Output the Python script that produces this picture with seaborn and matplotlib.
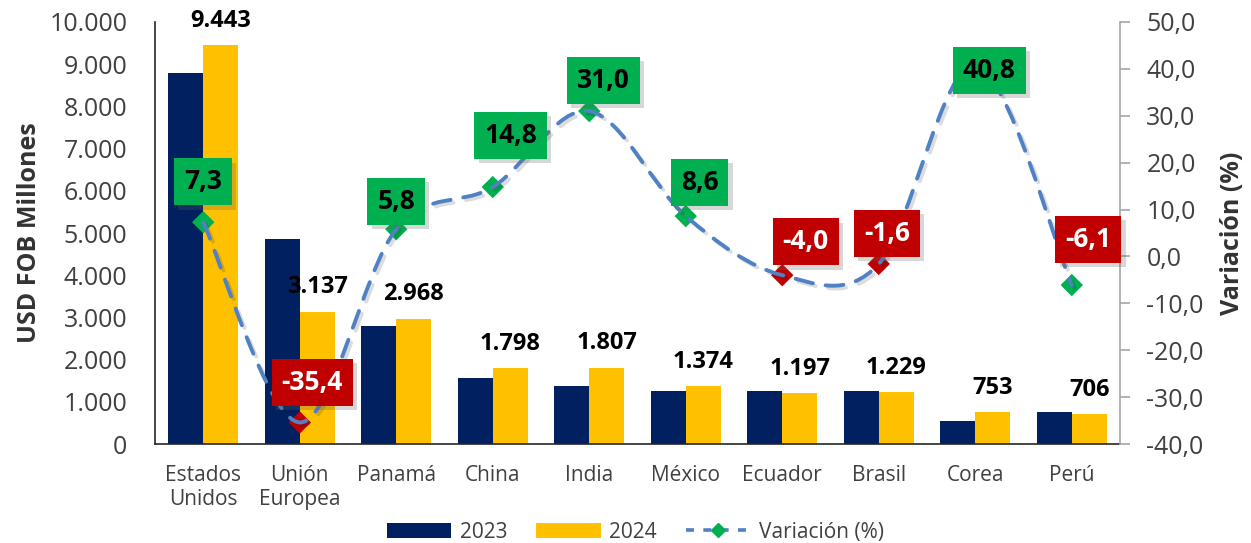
import matplotlib
matplotlib.use("Agg")
import matplotlib.pyplot as plt
import matplotlib.patheffects as pe
from matplotlib.path import Path
from matplotlib.patches import PathPatch, Patch
from matplotlib.lines import Line2D
from matplotlib.ticker import FuncFormatter, MultipleLocator
import numpy as np
import pandas as pd
import seaborn as sns

# ---- data (USD FOB millones) ----
paises = ["Estados\nUnidos", "Unión\nEuropea", "Panamá", "China", "India",
          "México", "Ecuador", "Brasil", "Corea", "Perú"]
valores_2023 = [8801, 4856, 2805, 1566, 1379, 1265, 1247, 1249, 535, 752]
valores_2024 = [9443, 3137, 2968, 1798, 1807, 1374, 1197, 1229, 753, 706]
variacion = [7.3, -35.4, 5.8, 14.8, 31.0, 8.6, -4.0, -1.6, 40.8, -6.1]
marcador_rojo = [False, True, False, False, False, False, True, True, False, False]

# label offsets (points) for the variation boxes, as placed in the original
offsets_etiqueta = [(0, 29), (9, 29), (0, 20), (13, 37), (10, 22),
                    (10, 24), (17, 24), (6, 22), (10, -4), (12, 33)]

NAVY = "#002060"
AMARILLO = "#FFC000"
VERDE = "#00B050"
ROJO = "#C00000"
AZUL_LINEA = "#4F81C4"
GRIS_TXT = "#404040"

sns.set_theme(style="white")
plt.rcParams["font.family"] = ["Open Sans", "DejaVu Sans"]

df = pd.DataFrame({
    "pais": paises * 2,
    "valor": valores_2023 + valores_2024,
    "anio": ["2023"] * len(paises) + ["2024"] * len(paises),
})

fig = plt.figure(figsize=(12.51, 5.43), dpi=100)
ax = fig.add_axes([0.1239, 0.1823, 0.7714, 0.7772])

sns.barplot(data=df, x="pais", y="valor", hue="anio", order=paises,
            palette=[NAVY, AMARILLO], saturation=1, width=0.73,
            linewidth=0, legend=False, ax=ax)

ax.set_xlim(-0.5, len(paises) - 0.5)
ax.set_ylim(0, 10000)
ax.yaxis.set_major_locator(MultipleLocator(1000))
ax.yaxis.set_major_formatter(FuncFormatter(lambda v, p: f"{v:,.0f}".replace(",", ".")))
ax.set_xlabel("")
ax.set_ylabel("USD FOB Millones", fontsize=18, fontweight="bold", color="#333333", labelpad=5)
ax.tick_params(axis="y", length=0, pad=20, labelsize=18, labelcolor=GRIS_TXT)
ax.tick_params(axis="x", length=0, pad=15, labelsize=15, labelcolor=GRIS_TXT)
for s in ["top", "right"]:
    ax.spines[s].set_visible(False)
ax.spines["left"].set_color("#262626")
ax.spines["bottom"].set_color("#262626")
ax.spines["left"].set_linewidth(1.2)
ax.spines["bottom"].set_linewidth(1.2)

# values above the 2024 bars
ax.bar_label(ax.containers[1],
             labels=[f"{v:,.0f}".replace(",", ".") for v in valores_2024],
             padding=9, fontsize=17, fontweight="bold", color="black")

# ---- variation line on right axis ----
ax2 = ax.twinx()
ax2.set_ylim(-40, 50)
ax2.yaxis.set_major_locator(MultipleLocator(10))
ax2.yaxis.set_major_formatter(FuncFormatter(lambda v, p: f"{v:.1f}".replace(".", ",")))
ax2.tick_params(axis="y", length=7, width=1.2, color="#A6A6A6", pad=12,
                labelsize=18, labelcolor=GRIS_TXT)
ax2.set_ylabel("Variación (%)", fontsize=18, fontweight="bold", color="#333333", labelpad=12)
for s in ["top", "left", "bottom"]:
    ax2.spines[s].set_visible(False)
ax2.spines["right"].set_color("#A6A6A6")
ax2.spines["right"].set_linewidth(1.2)

x = np.arange(len(paises))


def curva_suave(xs, ys):
    """Catmull-Rom style bezier path through the points (Excel smoothed line)."""
    pts = np.column_stack([xs, ys]).astype(float)
    ext = np.vstack([pts[0], pts, pts[-1]])
    verts = [pts[0]]
    codes = [Path.MOVETO]
    for i in range(len(pts) - 1):
        p0, p1, p2, p3 = ext[i], ext[i + 1], ext[i + 2], ext[i + 3]
        verts += [p1 + (p2 - p0) / 6, p2 - (p3 - p1) / 6, p2]
        codes += [Path.CURVE4] * 3
    return Path(verts, codes)


colores_marc = [ROJO if r else VERDE for r in marcador_rojo]
ax2.scatter(x, variacion, marker="D", s=130, c=colores_marc, edgecolors="none", zorder=3)

linea = PathPatch(curva_suave(x, variacion), facecolor="none", edgecolor=AZUL_LINEA,
                  lw=2.8, linestyle=(0, (4.6, 3.3)), zorder=4, capstyle="round")
linea.set_path_effects([pe.SimpleLineShadow(offset=(2, -2), alpha=0.15), pe.Normal()])
ax2.add_patch(linea)

for i, v in enumerate(variacion):
    fc = ROJO if v < 0 else VERDE
    tc = "white" if v < 0 else "black"
    t = ax2.annotate(f"{v:.1f}".replace(".", ","), (i, v), xytext=offsets_etiqueta[i],
                     textcoords="offset points", ha="center", va="center",
                     fontsize=19, fontweight="bold", color=tc, zorder=6,
                     bbox=dict(boxstyle="square,pad=0.38", fc=fc, ec="none"))
    t.get_bbox_patch().set_path_effects(
        [pe.SimplePatchShadow(offset=(3, -3), alpha=0.25, shadow_rgbFace="#606060"), pe.Normal()])

# ---- legend ----
handles = [
    Patch(facecolor=NAVY, edgecolor="none"),
    Patch(facecolor=AMARILLO, edgecolor="none"),
    Line2D([0], [0], color=AZUL_LINEA, lw=2.6, linestyle=(0, (2.2, 2.6)), marker="D",
           markersize=7, markerfacecolor=VERDE, markeredgecolor=VERDE),
]
fig.legend(handles, ["2023", "2024", "Variación (%)"], loc="center",
           bbox_to_anchor=(0.508, 0.02), ncol=3, frameon=False, fontsize=15,
           handlelength=3.1, handletextpad=0.4, columnspacing=1.4,
           labelcolor=GRIS_TXT)

fig.savefig("out.png", dpi=100)
